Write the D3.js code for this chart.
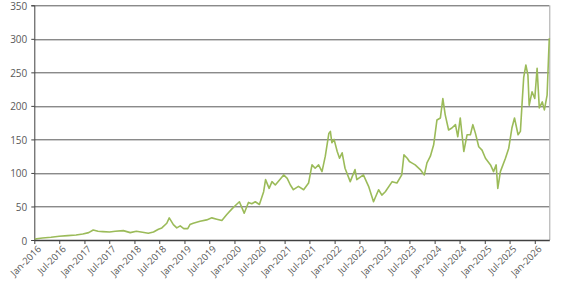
<!DOCTYPE html>
<html><head>
<meta charset="UTF-8">
<title>Price history</title>
<script src="https://cdn.jsdelivr.net/npm/d3@7"></script>
<style>
  body { margin: 0; background: #fff; }
  #chart { width: 565px; height: 287px; }
  .axis text { font-family: "Open Sans", "Noto Sans", sans-serif; fill: #595959; }
  .grid line { stroke: #595959; stroke-width: 1px; }
</style>
</head>
<body>
<div id="chart"></div>
<script>
// readings, roughly every few weeks
const dates = [
  "2016-01-04","2016-03-01","2016-05-02","2016-07-01","2016-09-01","2016-11-01","2016-12-20",
  "2017-02-01","2017-03-06","2017-04-10","2017-05-15","2017-07-03","2017-08-14","2017-10-12","2017-12-01",
  "2018-01-15","2018-03-01","2018-04-12","2018-05-20","2018-06-25","2018-07-20","2018-08-25","2018-09-12",
  "2018-10-12","2018-11-06","2018-12-01","2018-12-27","2019-01-25","2019-02-10","2019-03-06","2019-04-25",
  "2019-06-12","2019-07-20","2019-08-25","2019-10-01","2019-11-06","2019-12-12","2020-01-06","2020-02-06",
  "2020-03-12","2020-04-12","2020-05-06","2020-06-01","2020-07-01","2020-08-01","2020-08-15","2020-09-10",
  "2020-10-01","2020-10-25","2020-12-01","2020-12-25","2021-01-20","2021-02-12","2021-03-06","2021-04-12",
  "2021-05-20","2021-06-25","2021-07-20","2021-08-12","2021-09-06","2021-10-01","2021-10-25","2021-11-20",
  "2021-12-01","2021-12-12","2021-12-28","2022-01-20","2022-02-06","2022-02-25","2022-03-18","2022-04-25",
  "2022-05-30","2022-06-12","2022-07-30","2022-09-06","2022-10-12","2022-11-18","2022-12-12","2023-01-06",
  "2023-02-25","2023-04-01","2023-05-06","2023-05-22","2023-06-15","2023-07-01","2023-07-18","2023-08-12",
  "2023-09-18","2023-10-18","2023-11-06","2023-12-01","2023-12-25","2024-01-18","2024-02-12","2024-03-01",
  "2024-03-18","2024-04-12","2024-05-06","2024-06-01","2024-06-18","2024-07-06","2024-08-01","2024-08-25",
  "2024-09-18","2024-10-06","2024-10-25","2024-11-18","2024-12-12","2025-01-06","2025-02-12","2025-03-06",
  "2025-03-25","2025-04-06","2025-04-25","2025-06-01","2025-06-25","2025-07-18","2025-08-06","2025-09-01",
  "2025-09-18","2025-10-01","2025-10-12","2025-10-28","2025-11-12","2025-11-21","2025-12-12","2026-01-01",
  "2026-01-18","2026-02-03","2026-02-25","2026-03-12","2026-04-01","2026-04-12","2026-04-17"
];
const values = [
  1.5,3,4,5.5,6.5,7.5,9,
  11,15,13,12.5,12,13,14,11,
  13,11.5,10,12,16,18,25,33,
  23,18,21,17,17,23,25,28,
  30,33,31,29,38,46,51,57,
  40,56,54,57,53,72,90,77,
  87,82,91,97,92,82,75,80,
  75,85,112,107,112,102,125,159,
  162,145,150,132,122,130,107,87,
  105,90,97,80,57,75,67,72,
  87,85,97,127,122,117,115,112,
  105,97,115,125,142,179,182,211,
  187,164,167,172,154,182,132,157,
  157,172,159,139,134,122,112,102,
  112,77,102,122,137,167,182,157,
  162,206,242,261,246,201,221,211,
  256,197,206,194,216,276,301
];
const yTicks = [0, 50, 100, 150, 200, 250, 300, 350];

const parse = d3.timeParse("%Y-%m-%d");
const series = dates.map((d, i) => ({date: parse(d), value: values[i]}));

const margin = {top: 5.3, right: 15.7, bottom: 47, left: 34.3};
const width = 565 - margin.left - margin.right;
const height = 287 - margin.top - margin.bottom;

const svg = d3.select("#chart").append("svg")
    .attr("width", 565)
    .attr("height", 287)
  .append("g")
    .attr("transform", `translate(${margin.left},${margin.top})`);

const x = d3.scaleTime()
    .domain([parse("2016-01-01"), parse("2026-04-17")])
    .range([0, width]);
const y = d3.scaleLinear().domain([0, 350]).range([height, 0]);

// horizontal gridlines
svg.append("g").attr("class", "grid")
  .selectAll("line")
  .data(yTicks.slice(1))
  .enter().append("line")
    .attr("x1", 0).attr("x2", width)
    .attr("y1", d => Math.round(y(d)) + 0.5).attr("y2", d => Math.round(y(d)) + 0.5);

// right border
svg.append("line")
    .attr("x1", width + 0.5).attr("x2", width + 0.5)
    .attr("y1", y(350)).attr("y2", height)
    .attr("stroke", "#a6a6a6");

// y axis
const yAxis = svg.append("g").attr("class", "axis")
    .call(d3.axisLeft(y).tickValues(yTicks).tickSize(3).tickPadding(4));
yAxis.select(".domain").attr("stroke", "#404040");
yAxis.selectAll(".tick line").attr("stroke", "#404040");
yAxis.selectAll("text").style("font-size", "10px").attr("dy", "0.4em");

// line
const line = d3.line()
    .x(d => x(d.date))
    .y(d => y(d.value));

svg.append("path")
    .datum(series)
    .attr("fill", "none")
    .attr("stroke", "#9bbb59")
    .attr("stroke-width", 1.6)
    .attr("stroke-linejoin", "round")
    .attr("d", line);

// x axis
const xAxis = svg.append("g").attr("class", "axis")
    .attr("transform", `translate(0,${height})`)
    .call(d3.axisBottom(x)
      .ticks(d3.timeMonth.filter(d => d.getMonth() % 6 === 0))
      .tickFormat(d3.timeFormat("%b-%Y"))
      .tickSize(4)
      .tickSizeOuter(0));
xAxis.select(".domain").attr("stroke", "#404040").attr("stroke-width", 1.5);
xAxis.selectAll(".tick line").attr("stroke", "#404040");
xAxis.selectAll("text")
    .style("font-size", "9.5px")
    .style("text-anchor", "end")
    .attr("dx", "-0.2em")
    .attr("dy", "0.5em")
    .attr("transform", "rotate(-45)");
</script>
</body></html>
